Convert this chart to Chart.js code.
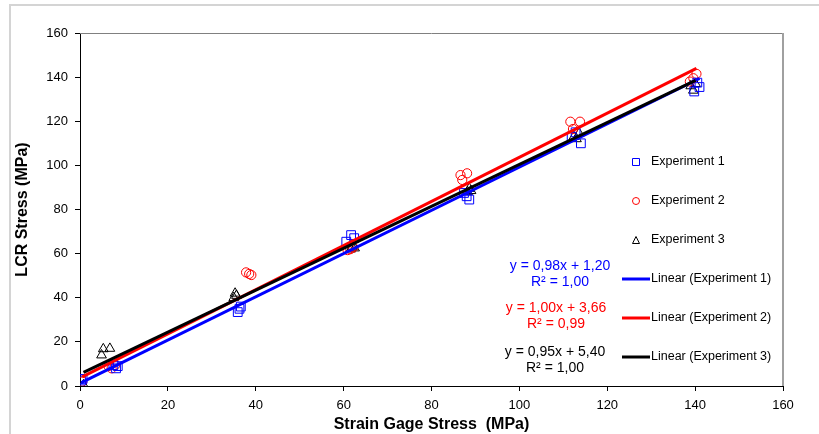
<!DOCTYPE html>
<html>
<head>
<meta charset="utf-8">
<script src="https://cdn.jsdelivr.net/npm/chart.js@4/dist/chart.umd.min.js"></script>
<style>
html,body{margin:0;padding:0;background:#fff;}
#wrap{width:819px;height:434px;position:relative;}
</style>
</head>
<body>
<div id="wrap"><canvas id="c" width="819" height="434"></canvas></div>
<script>
// ---- data ----
const exp1X = [0.3, 0.6, 7.6, 8.2, 8.6, 35.9, 36.3, 36.6, 60.6, 61.7, 62.4, 87.4, 88.0, 88.6, 111.9, 112.8, 114.0, 139.8, 140.5, 141.0];
const exp1Y = [2.5, 3.2, 9.5, 8.0, 9.0, 33.5, 35.0, 36.0, 65.4, 68.4, 67.0, 87.5, 86.0, 84.5, 113.0, 115.0, 110.0, 133.5, 137.5, 135.5];
const exp2X = [0.5, 6.5, 7.2, 8.0, 37.8, 38.5, 39.0, 60.9, 61.5, 62.2, 86.6, 87.0, 88.1, 111.6, 112.2, 113.8, 138.8, 139.6, 140.3];
const exp2Y = [2.0, 9.0, 8.0, 9.5, 51.5, 50.8, 50.3, 61.6, 62.0, 62.8, 95.6, 93.4, 96.4, 119.8, 116.5, 119.8, 138.0, 139.5, 141.5];
const exp3X = [0.8, 4.9, 5.3, 6.8, 35.0, 35.3, 35.6, 61.6, 62.0, 62.5, 88.2, 88.6, 89.0, 112.4, 113.0, 113.6, 139.0, 139.6, 140.1];
const exp3Y = [0.5, 14.0, 16.8, 17.0, 40.0, 42.0, 41.0, 62.0, 63.0, 62.5, 88.0, 89.5, 88.5, 113.0, 112.0, 114.5, 136.0, 134.0, 137.0];
// trendline coefficients as printed on the chart
const slopes = [0.98, 1.00, 0.95];
const intercepts = [1.20, 3.66, 5.40];
const r2Labels = ["R² = 1,00", "R² = 0,99", "R² = 1,00"];
const eqLabels = ["y = 0,98x + 1,20", "y = 1,00x + 3,66", "y = 0,95x + 5,40"];
const seriesNames = ["Experiment 1", "Experiment 2", "Experiment 3"];
const trendNames = ["Linear (Experiment 1)", "Linear (Experiment 2)", "Linear (Experiment 3)"];
const colors = ["#0000FF", "#FF0000", "#000000"];
const axisTicks = [0, 20, 40, 60, 80, 100, 120, 140, 160];

function pts(xs, ys){ return xs.map((x,i)=>({x:x, y:ys[i]})); }
function trend(xs, k){
  const x0 = Math.min(...xs), x1 = Math.max(...xs);
  return [{x:x0, y:slopes[k]*x0+intercepts[k]}, {x:x1, y:slopes[k]*x1+intercepts[k]}];
}
const allX = [exp1X, exp2X, exp3X];
const allY = [exp1Y, exp2Y, exp3Y];
const styles = ['rect','circle','triangle'];
const radii = [6.2, 4.6, 5.6];

const datasets = [];
for (let k=0;k<3;k++){
  datasets.push({
    label: seriesNames[k], data: pts(allX[k], allY[k]), showLine:false,
    pointStyle: styles[k], pointRadius: radii[k], pointBorderWidth:1,
    borderColor: colors[k], backgroundColor:'rgba(0,0,0,0)', pointBackgroundColor:'rgba(0,0,0,0)',
    order: 10
  });
}
const trendOrder = [3,2,1];
for (let k=0;k<3;k++){
  datasets.push({
    label: trendNames[k], data: trend(allX[k], k), showLine:true,
    borderColor: colors[k], borderWidth: 3, pointRadius:0, fill:false,
    order: trendOrder[k]
  });
}

const decor = {
  id:'decor',
  beforeDraw(chart){
    const c = chart.ctx;
    c.save();
    c.strokeStyle = '#d4d4d4'; c.lineWidth = 2;
    c.beginPath(); c.moveTo(10, 434); c.lineTo(10, 5); c.lineTo(819, 5); c.stroke();
    c.restore();
  },
  afterDraw(chart){
    const c = chart.ctx, a = chart.chartArea;
    c.save();
    c.strokeStyle = '#808080'; c.lineWidth = 1;
    c.beginPath(); c.moveTo(a.left, a.top+0.5); c.lineTo(a.right, a.top+0.5); c.stroke();
    c.strokeStyle = '#a0a0a0'; c.lineWidth = 2;
    c.beginPath(); c.moveTo(a.right, a.top); c.lineTo(a.right, a.bottom); c.stroke();
    // legend
    const lx = 636, tx = 651, ys = [162, 201, 240, 279, 318, 357];
    c.font = '12.5px "Liberation Sans", Arial, sans-serif';
    c.textBaseline = 'middle'; c.textAlign = 'left';
    for (let k=0;k<3;k++){
      const y = ys[k];
      c.strokeStyle = colors[k]; c.lineWidth = 1;
      c.beginPath();
      if (k===0){ c.rect(lx-3.5, y-3.5, 7, 7); }
      else if (k===1){ c.arc(lx, y, 3.5, 0, Math.PI*2); }
      else { c.moveTo(lx-3.5, y+3.5); c.lineTo(lx+3.5, y+3.5); c.lineTo(lx, y-3.5); c.closePath(); }
      c.stroke();
      c.fillStyle = '#000'; c.fillText(seriesNames[k], tx, y);
    }
    for (let k=0;k<3;k++){
      const y = ys[k+3];
      c.strokeStyle = colors[k]; c.lineWidth = 3;
      c.beginPath(); c.moveTo(622, y); c.lineTo(650, y); c.stroke();
      c.fillStyle = '#000'; c.fillText(trendNames[k], tx, y);
    }
    // equations
    const ex = [560, 556, 555], ey = [266, 308, 352];
    c.font = '14px "Liberation Sans", Arial, sans-serif';
    c.textAlign = 'center';
    for (let k=0;k<3;k++){
      c.fillStyle = colors[k];
      c.fillText(eqLabels[k], ex[k], ey[k]);
      c.fillText(r2Labels[k], ex[k], ey[k]+16);
    }
    c.restore();
  }
};

new Chart(document.getElementById('c'), {
  type:'scatter',
  data:{datasets},
  options:{
    responsive:false, animation:false,
    layout:{padding:{left:0, top:33, right:36, bottom:0}},
    plugins:{legend:{display:false}, tooltip:{enabled:false}},
    scales:{
      x:{type:'linear', min:0, max:160,
        afterBuildTicks(s){ s.ticks = axisTicks.map(v=>({value:v})); },
        afterFit(s){ s.height = 48; },
        grid:{drawOnChartArea:false, drawTicks:true, tickLength:5, color:'#000', tickColor:'#000'},
        border:{display:true, color:'#000', width:1},
        ticks:{color:'#000', padding:7, maxRotation:0, font:{family:'"Liberation Sans", Arial, sans-serif', size:13}},
        title:{display:true, text:'Strain Gage Stress  (MPa)', color:'#000', padding:{top:0,bottom:0},
          font:{family:'"Liberation Sans", Arial, sans-serif', size:16, weight:'bold'}}
      },
      y:{type:'linear', min:0, max:160,
        afterBuildTicks(s){ s.ticks = axisTicks.map(v=>({value:v})); },
        afterFit(s){ s.width = 80; },
        grid:{drawOnChartArea:false, drawTicks:true, tickLength:5, color:'#000', tickColor:'#000'},
        border:{display:true, color:'#000', width:1},
        ticks:{color:'#000', padding:7, font:{family:'"Liberation Sans", Arial, sans-serif', size:13}},
        title:{display:true, text:'LCR Stress (MPa)', color:'#000', padding:{top:13,bottom:0},
          font:{family:'"Liberation Sans", Arial, sans-serif', size:16, weight:'bold'}}
      }
    }
  },
  plugins:[decor]
});
</script>
</body>
</html>
